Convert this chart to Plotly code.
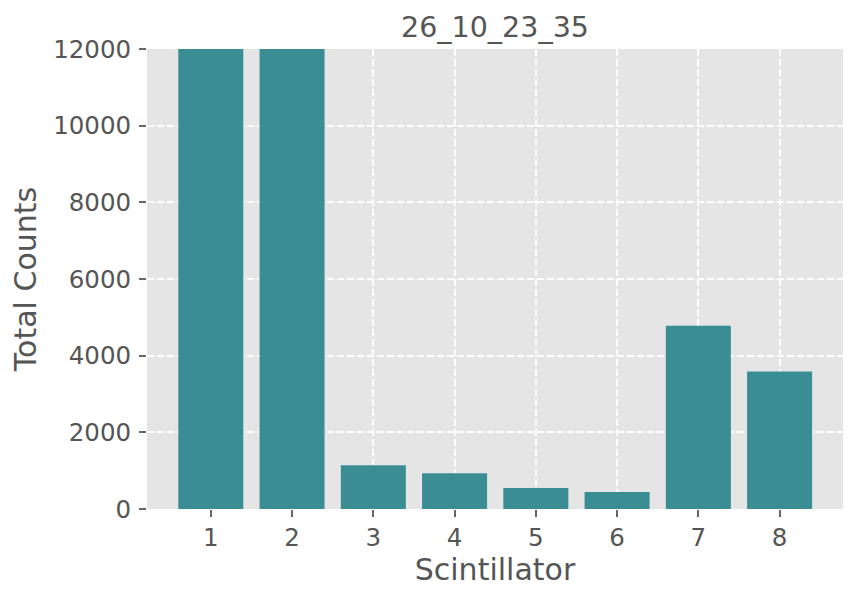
import plotly.graph_objects as go

scintillators = [1, 2, 3, 4, 5, 6, 7, 8]
total_counts = [15000, 15000, 1140, 935, 545, 442, 4780, 3585]
title_text = "26_10_23_35"
x_label = "Scintillator"
y_label = "Total Counts"
y_ticks = [0, 2000, 4000, 6000, 8000, 10000, 12000]
y_tick_text = ["0", "2000", "4000", "6000", "8000", "10000", "12000"]

fig = go.Figure(go.Bar(
    x=scintillators, y=total_counts, width=0.8,
    marker=dict(color="#3a8d93", line=dict(width=0)),
))

# page body has an 8px margin; figure is sized/placed to compensate
font = "DejaVu Sans"
fig.update_layout(
    width=842, height=585,
    margin=dict(l=139, r=7, t=41, b=84),
    paper_bgcolor="white", plot_bgcolor="#e5e5e5",
    font=dict(family=font, color="#555555", size=24.5),
    title=dict(text=title_text, x=0.5, xanchor="center",
               xref="paper", y=1 - 19 / 585, yanchor="middle", yref="container",
               font=dict(size=28.5, color="#555555")),
    bargap=0.2, showlegend=False,
)
grid = dict(showgrid=True, gridcolor="rgba(255,255,255,0.95)",
            griddash="7px,3px", gridwidth=1.6, zeroline=False, showline=False)
fig.update_xaxes(
    range=[0.215, 8.78], tickmode="array", tickvals=scintillators,
    ticks="outside", ticklen=7, tickwidth=1.8, tickcolor="#666666",
    title=dict(text=x_label, font=dict(size=30, color="#555555"), standoff=6),
    tickfont=dict(size=24.5, color="#555555"), **grid,
)
fig.update_yaxes(
    range=[0, 12000], tickmode="array", tickvals=y_ticks, ticktext=y_tick_text,
    ticks="outside", ticklen=7, tickwidth=1.8, tickcolor="#666666",
    ticklabelstandoff=3,
    title=dict(text=y_label, font=dict(size=30, color="#555555"), standoff=9),
    tickfont=dict(size=24.5, color="#555555"), **grid,
)
fig.write_html("out.html")
